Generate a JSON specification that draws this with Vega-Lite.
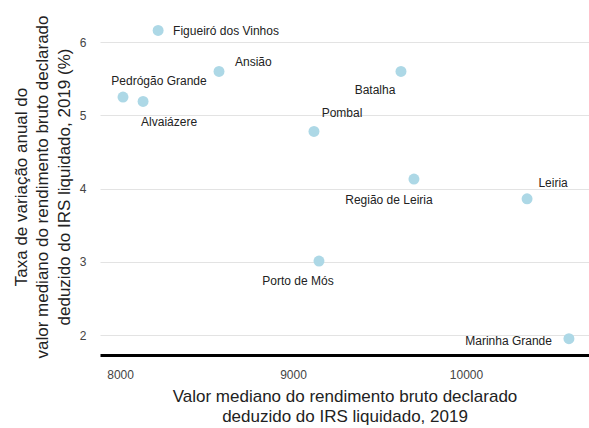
{
  "$schema": "https://vega.github.io/schema/vega-lite/v6.json",
  "width": 489,
  "height": 337,
  "autosize": {"type": "none"},
  "padding": {"left": 100, "top": 18, "right": 0, "bottom": 73},
  "background": "white",
  "config": {
    "view": {"stroke": null},
    "font": "Liberation Sans",
    "axis": {"labelFont": "Liberation Sans", "titleFont": "Liberation Sans"}
  },
  "data": {
    "values": [
      {"nome": "Figueiró dos Vinhos", "x": 8220, "y": 6.16},
      {"nome": "Ansião", "x": 8572, "y": 5.60},
      {"nome": "Pedrógão Grande", "x": 8017, "y": 5.25},
      {"nome": "Alvaiázere", "x": 8133, "y": 5.19},
      {"nome": "Batalha", "x": 9624, "y": 5.60},
      {"nome": "Pombal", "x": 9121, "y": 4.78},
      {"nome": "Região de Leiria", "x": 9699, "y": 4.13},
      {"nome": "Leiria", "x": 10353, "y": 3.86},
      {"nome": "Porto de Mós", "x": 9150, "y": 3.01},
      {"nome": "Marinha Grande", "x": 10595, "y": 1.95}
    ]
  },
  "encoding": {
    "x": {
      "field": "x", "type": "quantitative",
      "scale": {"domain": [7884, 10711], "nice": false, "zero": false},
      "axis": {
        "values": [8000, 9000, 10000], "format": "d", "grid": false, "ticks": false,
        "domain": true, "domainColor": "#000000", "domainWidth": 3,
        "labelFontSize": 12, "labelColor": "#444444", "labelPadding": 14,
        "title": ["Valor mediano do rendimento bruto declarado", "deduzido do IRS liquidado, 2019"],
        "titleFontSize": 17, "titleFontWeight": "normal", "titleColor": "#222222",
        "titlePadding": 8, "titleLineHeight": 20
      }
    },
    "y": {
      "field": "y", "type": "quantitative",
      "scale": {"domain": [1.727, 6.33], "nice": false, "zero": false},
      "axis": {
        "values": [2, 3, 4, 5, 6], "grid": true, "gridColor": "#e3e3e3", "gridWidth": 1,
        "ticks": false, "domain": false,
        "labelFontSize": 12, "labelColor": "#444444", "labelPadding": 14,
        "title": ["Taxa de variação anual do", "valor mediano do rendimento bruto declarado", "deduzido do IRS liquidado, 2019 (%)"],
        "titleFontSize": 17, "titleFontWeight": "normal", "titleColor": "#222222",
        "titlePadding": 6, "titleLineHeight": 21.5
      }
    }
  },
  "layer": [
    {"mark": {"type": "circle", "size": 120, "opacity": 1, "color": "#add8e6"}},
    {"transform": [{"filter": "datum.nome == 'Figueiró dos Vinhos'"}], "mark": {"type": "text", "align": "left", "dx": 15, "dy": 1, "fontSize": 12, "color": "#222222"}, "encoding": {"text": {"field": "nome"}}},
    {"transform": [{"filter": "datum.nome == 'Ansião'"}], "mark": {"type": "text", "align": "left", "dx": 16, "dy": -9, "fontSize": 12, "color": "#222222"}, "encoding": {"text": {"field": "nome"}}},
    {"transform": [{"filter": "datum.nome == 'Pedrógão Grande'"}], "mark": {"type": "text", "align": "center", "dx": 36, "dy": -16, "fontSize": 12, "color": "#222222"}, "encoding": {"text": {"field": "nome"}}},
    {"transform": [{"filter": "datum.nome == 'Alvaiázere'"}], "mark": {"type": "text", "align": "center", "dx": 26, "dy": 21, "fontSize": 12, "color": "#222222"}, "encoding": {"text": {"field": "nome"}}},
    {"transform": [{"filter": "datum.nome == 'Batalha'"}], "mark": {"type": "text", "align": "center", "dx": -26, "dy": 19, "fontSize": 12, "color": "#222222"}, "encoding": {"text": {"field": "nome"}}},
    {"transform": [{"filter": "datum.nome == 'Pombal'"}], "mark": {"type": "text", "align": "center", "dx": 28, "dy": -18, "fontSize": 12, "color": "#222222"}, "encoding": {"text": {"field": "nome"}}},
    {"transform": [{"filter": "datum.nome == 'Região de Leiria'"}], "mark": {"type": "text", "align": "center", "dx": -25, "dy": 21, "fontSize": 12, "color": "#222222"}, "encoding": {"text": {"field": "nome"}}},
    {"transform": [{"filter": "datum.nome == 'Leiria'"}], "mark": {"type": "text", "align": "center", "dx": 26, "dy": -16, "fontSize": 12, "color": "#222222"}, "encoding": {"text": {"field": "nome"}}},
    {"transform": [{"filter": "datum.nome == 'Porto de Mós'"}], "mark": {"type": "text", "align": "center", "dx": -21, "dy": 20, "fontSize": 12, "color": "#222222"}, "encoding": {"text": {"field": "nome"}}},
    {"transform": [{"filter": "datum.nome == 'Marinha Grande'"}], "mark": {"type": "text", "align": "right", "dx": -17, "dy": 2, "fontSize": 12, "color": "#222222"}, "encoding": {"text": {"field": "nome"}}}
  ]
}
